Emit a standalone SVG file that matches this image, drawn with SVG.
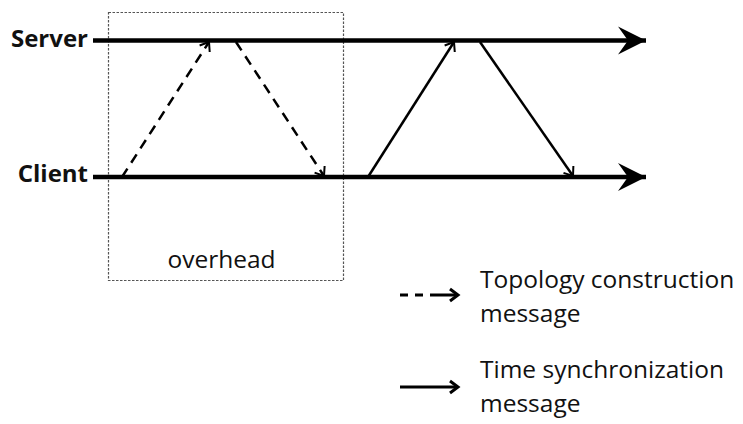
<svg xmlns="http://www.w3.org/2000/svg" width="743" height="424" viewBox="0 0 743 424">
  <style>
    .lbl { font-family: "Open Sans", "Liberation Sans", sans-serif; fill: #111; }
    .bold { font-weight: bold; font-size: 24px; }
    .txt { font-size: 24.5px; }
    .axis { stroke: #000; stroke-width: 4.5; fill: none; }
    .msg { stroke: #000; stroke-width: 2.5; fill: none; }
    .dash { stroke-dasharray: 10 7; }
    .key { stroke: #000; stroke-width: 3; fill: none; }
  </style>
  <defs>
    <marker id="axisHead" markerUnits="userSpaceOnUse" markerWidth="30" markerHeight="32" viewBox="0 0 30 32" refX="28" refY="16" orient="auto">
      <path d="M0,2 L28,16 L0,30 L10,16 Z" fill="#000"/>
    </marker>
    <marker id="msgHead" markerUnits="userSpaceOnUse" markerWidth="14" markerHeight="14" viewBox="0 0 14 14" refX="12" refY="7" orient="auto">
      <path d="M4,1 L12,7 L4,13" fill="none" stroke="#000" stroke-width="2"/>
    </marker>
    <marker id="keyHead" markerUnits="userSpaceOnUse" markerWidth="16" markerHeight="16" viewBox="0 0 16 16" refX="13" refY="8" orient="auto">
      <path d="M5,2 L13,8 L5,14" fill="none" stroke="#000" stroke-width="3"/>
    </marker>
  </defs>

  <!-- overhead region -->
  <g id="overhead">
    <rect x="108.5" y="12.5" width="235" height="268" fill="none" stroke="#555" stroke-width="1.2" stroke-dasharray="2.5 1.5"/>
    <text class="lbl txt" x="221.5" y="268" text-anchor="middle">overhead</text>
  </g>

  <!-- timelines -->
  <g id="server">
    <text class="lbl bold" x="88" y="47" text-anchor="end">Server</text>
    <line class="axis" x1="93" y1="40.5" x2="646" y2="40.5" marker-end="url(#axisHead)"/>
  </g>
  <g id="client">
    <text class="lbl bold" x="88" y="182" text-anchor="end">Client</text>
    <line class="axis" x1="93" y1="177" x2="646" y2="177" marker-end="url(#axisHead)"/>
  </g>

  <!-- messages -->
  <g id="connectors">
    <line class="msg dash" x1="122" y1="177" x2="209" y2="42" marker-end="url(#msgHead)"/>
    <line class="msg dash" x1="236" y1="42" x2="324" y2="176" marker-end="url(#msgHead)"/>
    <line class="msg" x1="368" y1="177" x2="454" y2="42" marker-end="url(#msgHead)"/>
    <line class="msg" x1="480" y1="42" x2="573" y2="176" marker-end="url(#msgHead)"/>
  </g>

  <!-- legend -->
  <g id="legend-topology">
    <line class="key" x1="400" y1="295" x2="425" y2="295" stroke-dasharray="8 7"/>
    <line class="key" x1="430" y1="295" x2="458" y2="295" marker-end="url(#keyHead)"/>
    <text class="lbl txt" x="480" y="288">Topology construction</text>
    <text class="lbl txt" x="480" y="322">message</text>
  </g>
  <g id="legend-sync">
    <line class="key" x1="400" y1="387" x2="458" y2="387" marker-end="url(#keyHead)"/>
    <text class="lbl txt" x="480" y="378">Time synchronization</text>
    <text class="lbl txt" x="480" y="412">message</text>
  </g>
</svg>
